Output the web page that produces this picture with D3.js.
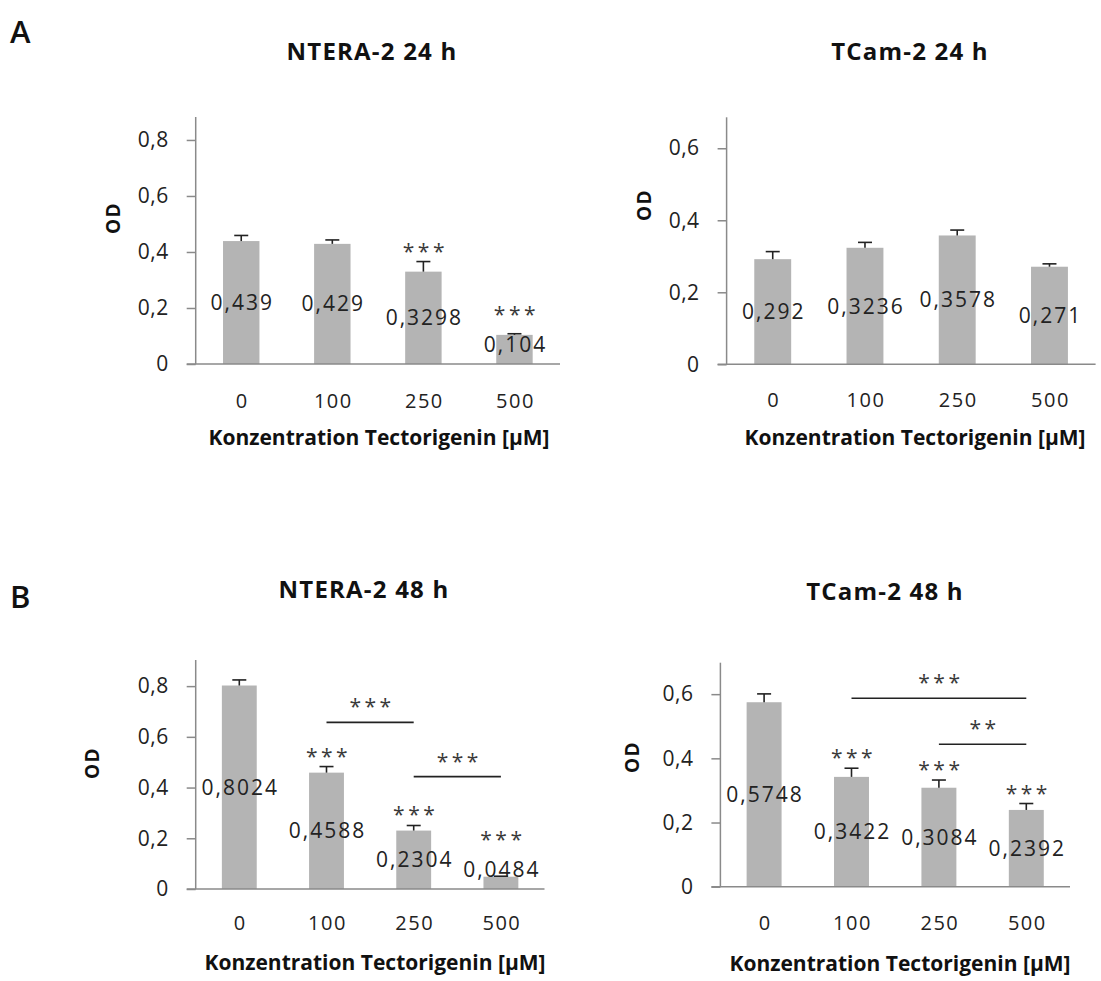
<!DOCTYPE html>
<meta charset="utf-8">
<html>
<head>
<script src="https://d3js.org/d3.v7.min.js"></script>
<style>
  body { margin: 0; background: #fff; }
  svg text { font-family: "Open Sans", sans-serif; }
</style>
</head>
<body>
<div id="viz"></div>
<script>
// categories
var concentrations = ["0", "100", "250", "500"];

// NTERA-2 24 h
var ntera24Mean = [0.439, 0.429, 0.3298, 0.104];
var ntera24Err = [0.02, 0.014, 0.036, 0.004];
var ntera24Stars = ["", "", "***", "***"];
var ntera24Ticks = [0, 0.2, 0.4, 0.6, 0.8];

// TCam-2 24 h
var tcam24Mean = [0.292, 0.3236, 0.3578, 0.271];
var tcam24Err = [0.021, 0.015, 0.015, 0.008];
var tcam24Stars = ["", "", "", ""];
var tcam24Ticks = [0, 0.2, 0.4, 0.6];

// NTERA-2 48 h
var ntera48Mean = [0.8024, 0.4588, 0.2304, 0.0484];
var ntera48Err = [0.022, 0.024, 0.02, 0.002];
var ntera48Stars = ["", "***", "***", "***"];
var ntera48Ticks = [0, 0.2, 0.4, 0.6, 0.8];
var ntera48Brackets = [
    { from: "100", to: "250", value: 0.657, label: "***" },
    { from: "250", to: "500", value: 0.443, label: "***" }
];

// TCam-2 48 h
var tcam48Mean = [0.5748, 0.3422, 0.3084, 0.2392];
var tcam48Err = [0.026, 0.027, 0.024, 0.02];
var tcam48Stars = ["", "***", "***", "***"];
var tcam48Ticks = [0, 0.2, 0.4, 0.6];
var tcam48Brackets = [
    { from: "100", to: "500", value: 0.587, label: "***" },
    { from: "250", to: "500", value: 0.444, label: "**" }
];

var xTitle = "Konzentration Tectorigenin [µM]";

var de = d3.formatLocale({ decimal: ",", thousands: ".", grouping: [3], currency: ["", "€"] });
var tickFmt = de.format(".1~f");
var labelFmt = de.format("~g");

var width = 1101, height = 981;
var svg = d3.select("#viz").append("svg")
    .attr("width", width)
    .attr("height", height);

var barColor = "#b4b4b4";
var axisColor = "#8a8a8a";
var textColor = "#222";

function drawPanel(p) {
    var x = d3.scaleBand(concentrations, [p.left, p.right]).paddingInner(0.6).paddingOuter(0.3);
    var y = d3.scaleLinear([0, p.yMax], [p.bottom, p.top]);
    var g = svg.append("g");

    // title
    g.append("text")
        .attr("x", p.titleX).attr("y", p.titleY)
        .attr("text-anchor", "middle")
        .attr("font-size", 24).attr("font-weight", "bold")
        .attr("letter-spacing", 1.2)
        .attr("fill", "#111")
        .text(p.title);

    // bars
    g.selectAll("rect.bar")
        .data(p.mean)
        .join("rect")
        .attr("class", "bar")
        .attr("x", (d, i) => x(concentrations[i]))
        .attr("y", d => y(d))
        .attr("width", x.bandwidth())
        .attr("height", d => y(0) - y(d))
        .attr("fill", barColor);

    // y axis
    var yAxis = d3.axisLeft(y).tickValues(p.ticks).tickFormat(tickFmt).tickSize(9).tickPadding(18);
    var ya = g.append("g")
        .attr("transform", `translate(${p.left},0)`)
        .call(yAxis);
    ya.select(".domain").attr("stroke", axisColor).attr("stroke-width", 1.5)
        .attr("d", `M0,${y(0)}V${y(p.yMax)}`);
    ya.selectAll(".tick line").attr("stroke", axisColor).attr("stroke-width", 1.5);
    ya.selectAll(".tick text")
        .attr("font-size", 21)
        .attr("letter-spacing", 0.5)
        .attr("fill", textColor)
        .style("font-family", "'Open Sans', sans-serif");

    // x axis line (extends to the y tick length)
    g.append("line")
        .attr("x1", p.left - 9).attr("x2", p.right)
        .attr("y1", y(0)).attr("y2", y(0))
        .attr("stroke", axisColor).attr("stroke-width", 1.5);

    // x tick labels
    g.selectAll("text.xtick")
        .data(concentrations)
        .join("text")
        .attr("class", "xtick")
        .attr("x", d => x(d) + x.bandwidth() / 2 + 1)
        .attr("y", p.xTickY)
        .attr("text-anchor", "middle")
        .attr("font-size", 20)
        .attr("letter-spacing", 1.5)
        .attr("fill", textColor)
        .text(d => d);

    // x title
    g.append("text")
        .attr("x", p.xTitleX).attr("y", p.xTitleY)
        .attr("text-anchor", "middle")
        .attr("font-size", 21).attr("font-weight", "bold")
        .attr("fill", "#111")
        .text(xTitle);

    // y title
    g.append("text")
        .attr("transform", `translate(${p.odX},${p.odY}) rotate(-90)`)
        .attr("dy", "0.35em")
        .attr("text-anchor", "middle")
        .attr("font-size", 19).attr("font-weight", "bold")
        .attr("letter-spacing", 1.5)
        .attr("fill", "#111")
        .text("OD");

    // error bars
    var cx = i => x(concentrations[i]) + x.bandwidth() / 2;
    var eb = g.append("g").attr("stroke", "#222").attr("stroke-width", 1.6);
    p.mean.forEach(function (m, i) {
        var top = y(m + p.err[i]);
        eb.append("line").attr("x1", cx(i)).attr("x2", cx(i)).attr("y1", y(m)).attr("y2", top);
        eb.append("line").attr("x1", cx(i) - 7).attr("x2", cx(i) + 7).attr("y1", top).attr("y2", top);
    });

    // value labels (centred in the bar, kept clear of the axis)
    var labelY = p.mean.map(m => Math.min(y(m / 2), y(0) - 20));
    g.selectAll("text.val")
        .data(p.mean)
        .join("text")
        .attr("class", "val")
        .attr("x", (d, i) => cx(i) + 1)
        .attr("y", (d, i) => labelY[i])
        .attr("dy", "0.36em")
        .attr("text-anchor", "middle")
        .attr("font-size", 21)
        .attr("letter-spacing", 2)
        .attr("fill", textColor)
        .text(d => labelFmt(d));

    // significance stars above bars
    g.selectAll("text.star")
        .data(p.stars)
        .join("text")
        .attr("class", "star")
        .attr("x", (d, i) => cx(i) + 2)
        .attr("y", (d, i) => Math.min(y(p.mean[i] + p.err[i]) - 15, labelY[i] - 34) + 12)
        .attr("text-anchor", "middle")
        .attr("font-size", 21)
        .attr("letter-spacing", 3.5)
        .attr("fill", "#3a3a3a")
        .text(d => d);

    // brackets between groups
    (p.brackets || []).forEach(function (b) {
        var x1 = x(b.from) + x.bandwidth() / 2;
        var x2 = x(b.to) + x.bandwidth() / 2;
        g.append("line")
            .attr("x1", x1).attr("x2", x2)
            .attr("y1", y(b.value)).attr("y2", y(b.value))
            .attr("stroke", "#222").attr("stroke-width", 1.6);
        g.append("text")
            .attr("x", (x1 + x2) / 2 + 2)
            .attr("y", y(b.value) - 20 + 12)
            .attr("text-anchor", "middle")
            .attr("font-size", 21)
            .attr("letter-spacing", 3.5)
            .attr("fill", "#3a3a3a")
            .text(b.label);
    });
}

drawPanel({
    title: "NTERA-2 24 h", mean: ntera24Mean, err: ntera24Err, stars: ntera24Stars, ticks: ntera24Ticks,
    yMax: 0.882, left: 195.7, right: 560, bottom: 364, top: 117,
    titleX: 372, titleY: 60, odX: 113, odY: 218, xTickY: 408, xTitleX: 379, xTitleY: 445
});
drawPanel({
    title: "TCam-2 24 h", mean: tcam24Mean, err: tcam24Err, stars: tcam24Stars, ticks: tcam24Ticks,
    yMax: 0.686, left: 726.6, right: 1095.6, bottom: 364.3, top: 117.3,
    titleX: 910, titleY: 60, odX: 644.5, odY: 205, xTickY: 407, xTitleX: 915, xTitleY: 445
});
drawPanel({
    title: "NTERA-2 48 h", mean: ntera48Mean, err: ntera48Err, stars: ntera48Stars, ticks: ntera48Ticks,
    brackets: ntera48Brackets,
    yMax: 0.903, left: 195.7, right: 544.5, bottom: 889, top: 660,
    titleX: 364, titleY: 598, odX: 92, odY: 763, xTickY: 930, xTitleX: 375, xTitleY: 970
});
drawPanel({
    title: "TCam-2 48 h", mean: tcam48Mean, err: tcam48Err, stars: tcam48Stars, ticks: tcam48Ticks,
    brackets: tcam48Brackets,
    yMax: 0.698, left: 720.4, right: 1070, bottom: 886.7, top: 662.7,
    titleX: 885, titleY: 600, odX: 632.5, odY: 757, xTickY: 930, xTitleX: 900, xTitleY: 971
});

// panel letters
svg.append("text").attr("x", 10).attr("y", 43).attr("font-size", 31).attr("font-weight", 600).attr("fill", "#111").text("A");
svg.append("text").attr("x", 10).attr("y", 608).attr("font-size", 31).attr("font-weight", 600).attr("fill", "#111").text("B");
</script>
</body>
</html>
